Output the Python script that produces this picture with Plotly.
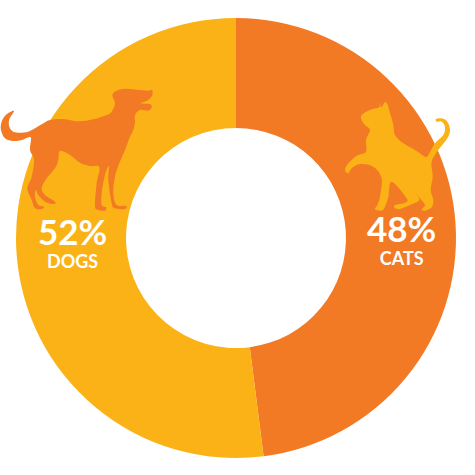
import plotly.graph_objects as go

# =================================================================================
# Cats vs dogs donut, silhouettes are drawn as shapes on top of the slices
# =================================================================================

labels = ["CATS", "DOGS"]
values = [48, 52]
percents = ["52%", "48%"]
colors = ["#F37A24", "#FBB216"]

SIZE = 475

dog_outline = [
    (42,93),(20,103),(5,125),(3,150),(15,175),(40,183),(65,180),(92,172),(90,210),(102,240),
    (95,290),(82,325),(95,360),(105,385),(125,387),(132,380),(115,375),(105,350),(108,330),
    (115,345),(135,365),(160,372),(165,365),(135,345),(125,325),(140,295),(165,265),(175,240),
    (180,213),(210,225),(240,248),(270,258),(298,262),(290,310),(285,378),(295,390),(315,392),
    (318,382),(305,375),(305,340),(315,285),(327,258),(325,300),(335,370),(345,385),(375,387),
    (378,378),(350,375),(340,340),(345,290),(358,250),(375,210),(388,175),(400,150),(405,125),
    (405,105),(420,90),(445,92),(455,82),(450,72),(422,70),(445,60),(457,45),(456,30),(445,32),
    (420,30),(375,26),(350,32),(337,45),(345,70),(335,95),(320,105),(280,118),(235,124),
    (190,117),(150,120),(125,133),(105,145),(85,155),(60,158),(40,155),(28,140),(28,118),
]
cat_outline = [
    (118,38),(125,52),(133,38),(142,42),(150,70),(160,105),(165,135),(190,160),(225,180),
    (255,200),(265,195),(285,160),(310,135),(315,110),(305,95),(290,95),(288,87),(305,85),
    (322,95),(330,120),(322,145),(295,180),(275,215),(278,260),(272,300),(280,330),(275,352),
    (255,362),(245,358),(255,345),(240,325),(225,305),(238,330),(210,345),(180,357),(165,355),
    (165,345),(195,338),(200,325),(155,275),(145,320),(135,350),(125,362),(105,358),(112,345),
    (120,320),(125,265),(100,230),(60,222),(35,235),(25,250),(15,240),(25,220),(50,197),
    (78,185),(78,150),(90,120),(75,105),(65,90),(65,75),(90,60),(118,52),
]


def outline_path(points, left, top):
    # crop pixels -> paper coordinates, Catmull-Rom so the outline stays rounded
    pts = [((left + px / 3) / SIZE, 1 - (top + py / 3) / SIZE) for px, py in points]
    n = len(pts)
    path = "M%.4f,%.4f" % pts[0]
    for i in range(n):
        p0, p1, p2, p3 = pts[i - 1], pts[i], pts[(i + 1) % n], pts[(i + 2) % n]
        path += " C%.4f,%.4f %.4f,%.4f %.4f,%.4f" % (
            p1[0] + (p2[0] - p0[0]) / 6, p1[1] + (p2[1] - p0[1]) / 6,
            p2[0] - (p3[0] - p1[0]) / 6, p2[1] - (p3[1] - p1[1]) / 6,
            p2[0], p2[1],
        )
    return path + " Z"


def note(pct, name, x, y):
    text = "<b><span style='font-size:35px'>%s</span><br>%s</b>" % (pct, name)
    return dict(text=text, x=x / SIZE, y=1 - y / SIZE, xref="paper", yref="paper",
                xanchor="center", yanchor="middle", align="center", showarrow=False,
                font=dict(family="Lato", size=18, color="#FFFFFF"))


fig = go.Figure(
    go.Pie(
        labels=labels,
        values=values,
        hole=0.5,
        sort=False,
        direction="clockwise",
        rotation=0,
        marker=dict(colors=colors, line=dict(width=0)),
        textinfo="none",
        hoverinfo="label+percent",
        domain=dict(x=[16 / SIZE, 456 / SIZE], y=[1 - 458 / SIZE, 1 - 18 / SIZE]),
    )
)

fig.update_layout(
    width=SIZE,
    height=SIZE,
    margin=dict(l=0, r=0, t=0, b=0),
    paper_bgcolor="#FFFFFF",
    showlegend=False,
    shapes=[
        dict(type="path", xref="paper", yref="paper", path=outline_path(dog_outline, 0, 80),
             fillcolor=colors[0], line=dict(width=0)),
        dict(type="path", xref="paper", yref="paper", path=outline_path(cat_outline, 340, 90),
             fillcolor=colors[1], line=dict(width=0)),
    ],
    annotations=[
        note(percents[0], labels[1], 72, 241),
        note(percents[1], labels[0], 401, 238),
    ],
)

# default page margin would push the figure 8px down and right
fig.write_html("out.html", config=dict(displayModeBar=False),
               post_script="document.body.style.margin = '0';")
